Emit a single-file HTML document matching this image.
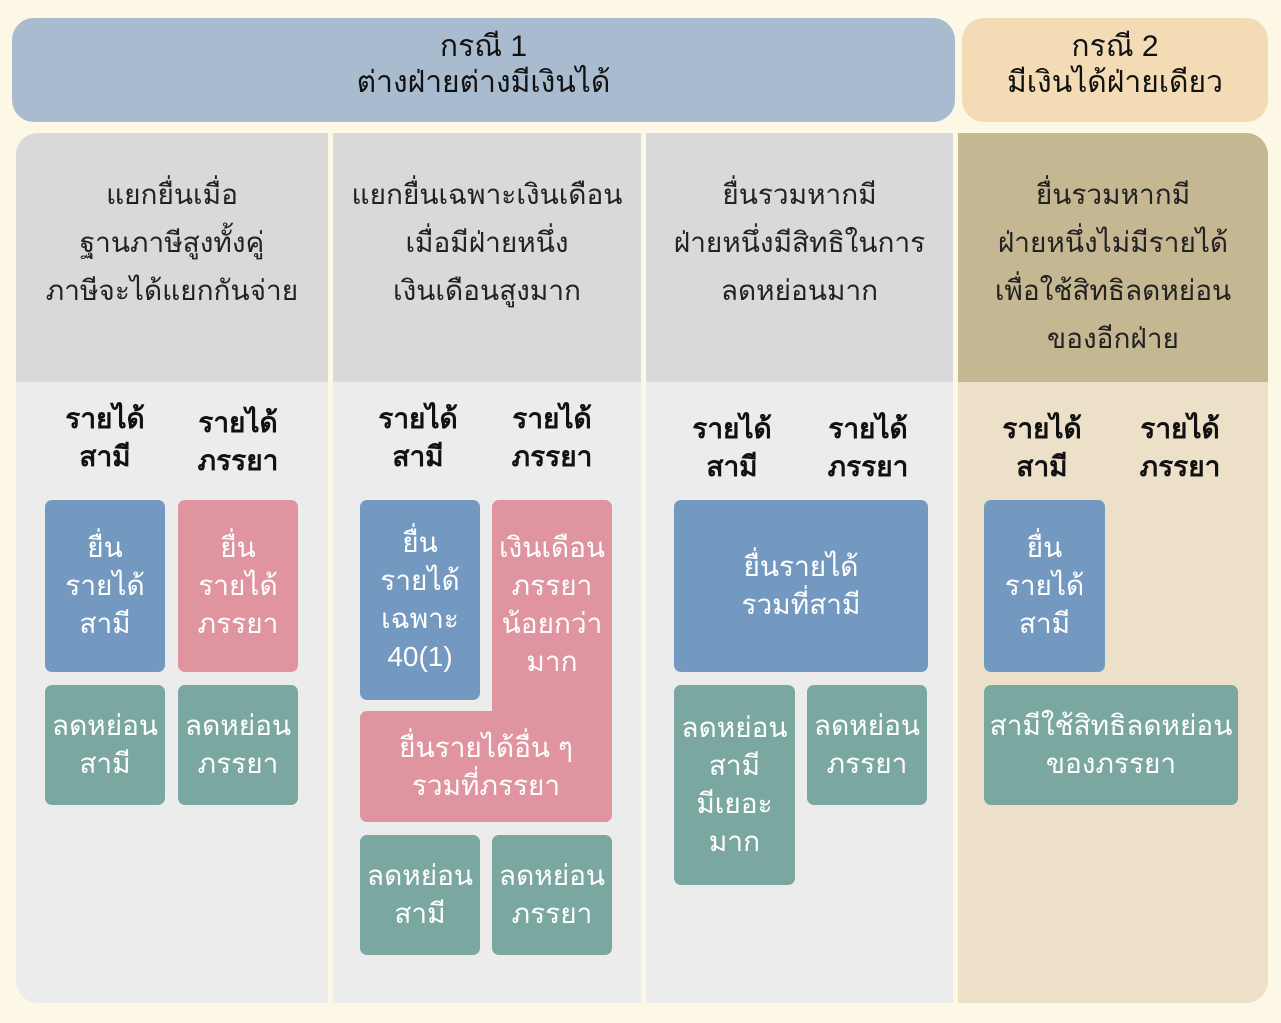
<!DOCTYPE html>
<html><head><meta charset="utf-8"><style>
body{margin:0;width:1281px;height:1023px;background:#fdf8e6;position:relative;overflow:hidden;font-family:"Liberation Sans","DejaVu Sans",sans-serif;}
.a{position:absolute;box-sizing:border-box;}
.c{display:flex;align-items:center;justify-content:center;text-align:center;}
.h{font-size:30px;color:#111;line-height:36px;padding-bottom:10px;}
.t{font-size:28px;color:#222;line-height:48px;text-align:center;padding-top:38px;}
.l{font-size:28px;font-weight:bold;color:#111;line-height:38px;text-align:center;}
.b{border-radius:7px;color:#fff;font-size:28px;line-height:38px;}
.bl{background:#7499c0}.pk{background:#df949f}.gr{background:#7aa8a0}
</style></head><body>
<div class="a c h" style="left:12px;top:18px;width:943px;height:104px;background:#a9bccf;border-radius:22px;">กรณี 1<br>ต่างฝ่ายต่างมีเงินได้</div>
<div class="a c h" style="left:962px;top:18px;width:306px;height:104px;background:#f3dcb5;border-radius:22px;">กรณี 2<br>มีเงินได้ฝ่ายเดียว</div>

<div class="a" style="left:16px;top:133px;width:312px;height:870px;background:#ececec;border-radius:22px 0 0 22px;"></div>
<div class="a" style="left:333px;top:133px;width:308px;height:870px;background:#ececec;"></div>
<div class="a" style="left:646px;top:133px;width:307px;height:870px;background:#ececec;"></div>
<div class="a" style="left:958px;top:133px;width:310px;height:870px;background:#ede0c8;border-radius:0 22px 22px 0;"></div>

<div class="a t" style="left:16px;top:133px;width:312px;height:249px;background:#d9d9d9;border-radius:22px 0 0 0;">แยกยื่นเมื่อ<br>ฐานภาษีสูงทั้งคู่<br>ภาษีจะได้แยกกันจ่าย</div>
<div class="a t" style="left:333px;top:133px;width:308px;height:249px;background:#d9d9d9;">แยกยื่นเฉพาะเงินเดือน<br>เมื่อมีฝ่ายหนึ่ง<br>เงินเดือนสูงมาก</div>
<div class="a t" style="left:646px;top:133px;width:307px;height:249px;background:#d9d9d9;">ยื่นรวมหากมี<br>ฝ่ายหนึ่งมีสิทธิในการ<br>ลดหย่อนมาก</div>
<div class="a t" style="left:958px;top:133px;width:310px;height:249px;background:#c6b793;border-radius:0 22px 0 0;">ยื่นรวมหากมี<br>ฝ่ายหนึ่งไม่มีรายได้<br>เพื่อใช้สิทธิลดหย่อน<br>ของอีกฝ่าย</div>

<div class="a l" style="left:45px;top:400px;width:120px;">รายได้<br>สามี</div>
<div class="a l" style="left:178px;top:404px;width:120px;">รายได้<br>ภรรยา</div>
<div class="a l" style="left:358px;top:400px;width:120px;">รายได้<br>สามี</div>
<div class="a l" style="left:492px;top:400px;width:120px;">รายได้<br>ภรรยา</div>
<div class="a l" style="left:672px;top:410px;width:120px;">รายได้<br>สามี</div>
<div class="a l" style="left:808px;top:410px;width:120px;">รายได้<br>ภรรยา</div>
<div class="a l" style="left:982px;top:410px;width:120px;">รายได้<br>สามี</div>
<div class="a l" style="left:1120px;top:410px;width:120px;">รายได้<br>ภรรยา</div>

<div class="a c b bl" style="left:45px;top:500px;width:120px;height:172px;">ยื่น<br>รายได้<br>สามี</div>
<div class="a c b pk" style="left:178px;top:500px;width:120px;height:172px;">ยื่น<br>รายได้<br>ภรรยา</div>
<div class="a c b gr" style="left:45px;top:685px;width:120px;height:120px;">ลดหย่อน<br>สามี</div>
<div class="a c b gr" style="left:178px;top:685px;width:120px;height:120px;">ลดหย่อน<br>ภรรยา</div>

<div class="a c b bl" style="left:360px;top:500px;width:120px;height:200px;">ยื่น<br>รายได้<br>เฉพาะ<br>40(1)</div>
<div class="a b pk" style="left:492px;top:500px;width:120px;height:322px;"></div>
<div class="a c b pk" style="left:360px;top:711px;width:252px;height:111px;">ยื่นรายได้อื่น ๆ<br>รวมที่ภรรยา</div>
<div class="a c b" style="left:492px;top:510px;width:120px;height:190px;">เงินเดือน<br>ภรรยา<br>น้อยกว่า<br>มาก</div>
<div class="a c b gr" style="left:360px;top:835px;width:120px;height:120px;">ลดหย่อน<br>สามี</div>
<div class="a c b gr" style="left:492px;top:835px;width:120px;height:120px;">ลดหย่อน<br>ภรรยา</div>

<div class="a c b bl" style="left:674px;top:500px;width:254px;height:172px;">ยื่นรายได้<br>รวมที่สามี</div>
<div class="a c b gr" style="left:674px;top:685px;width:121px;height:200px;">ลดหย่อน<br>สามี<br>มีเยอะ<br>มาก</div>
<div class="a c b gr" style="left:807px;top:685px;width:120px;height:120px;">ลดหย่อน<br>ภรรยา</div>

<div class="a c b bl" style="left:984px;top:500px;width:121px;height:172px;">ยื่น<br>รายได้<br>สามี</div>
<div class="a c b gr" style="left:984px;top:685px;width:254px;height:120px;">สามีใช้สิทธิลดหย่อน<br>ของภรรยา</div>
</body></html>
